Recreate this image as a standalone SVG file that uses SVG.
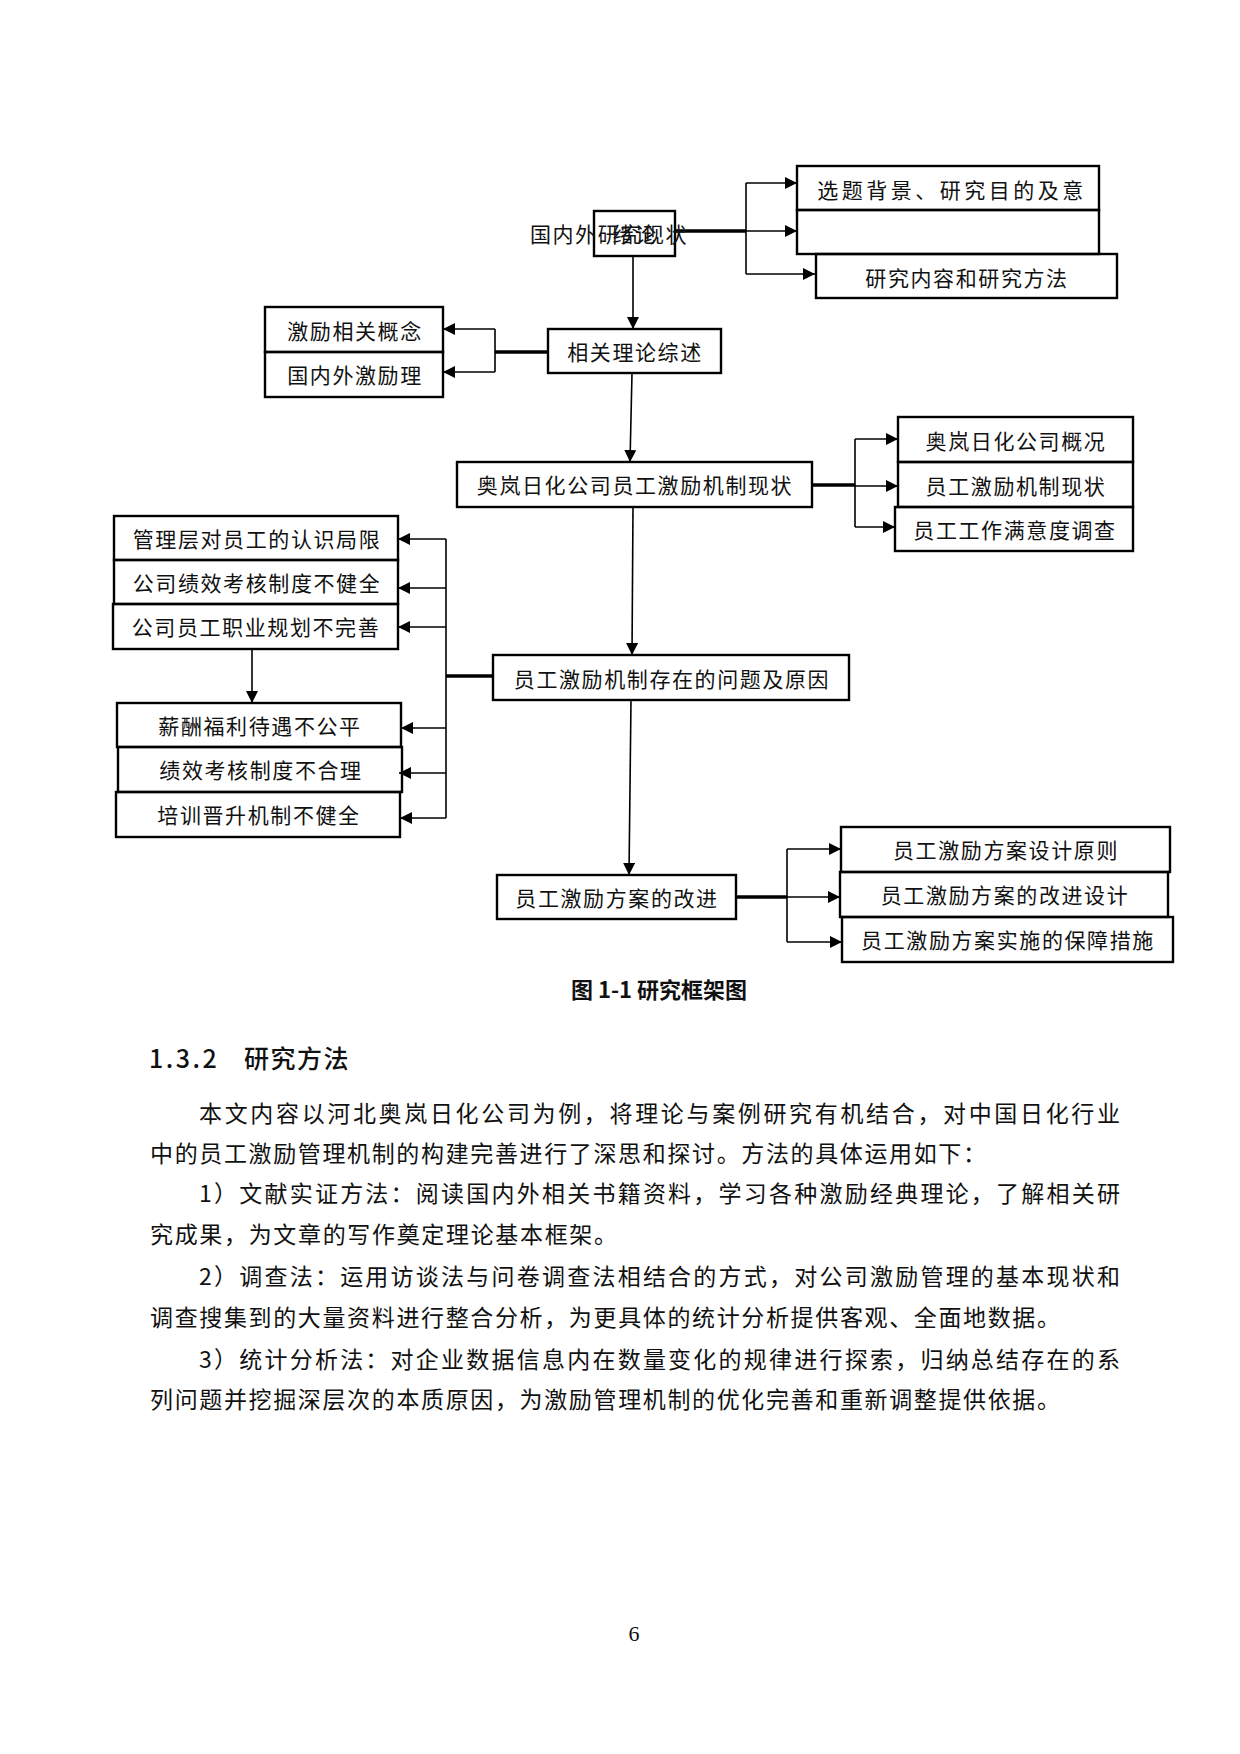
<svg xmlns="http://www.w3.org/2000/svg" width="1240" height="1754" viewBox="0 0 1240 1754">
<defs>
<marker id="ah" viewBox="0 0 10 10" refX="10" refY="5" markerWidth="12" markerHeight="12" markerUnits="userSpaceOnUse" orient="auto"><path d="M0,0 L10,5 L0,10 z" fill="#000"/></marker>
<style>
.box{fill:none;stroke:#000;stroke-width:2.4}
.lbl{font-family:"Noto Sans CJK SC","Liberation Sans",sans-serif;font-size:21px;letter-spacing:1.6px;fill:#111;text-anchor:middle;dominant-baseline:central}
.wide{letter-spacing:3.5px}
.ln{fill:none;stroke:#000;stroke-width:1.6}
.arr{fill:none;stroke:#000;stroke-width:1.6;marker-end:url(#ah)}
.thick{fill:none;stroke:#000;stroke-width:3.6}
.body{font-family:"Noto Sans CJK SC","Liberation Sans",sans-serif;font-size:23px;fill:#111;dominant-baseline:central}
.head{font-family:"Noto Sans CJK SC","Liberation Sans",sans-serif;font-size:25px;fill:#111;dominant-baseline:central;font-weight:500}
.cap{font-family:"Noto Sans CJK SC","Liberation Sans",sans-serif;font-size:22px;fill:#111;text-anchor:middle;dominant-baseline:central;font-weight:bold}
.pg{font-family:"Liberation Serif",serif;font-size:22px;fill:#111;text-anchor:middle;dominant-baseline:central}
</style>
</defs>
<rect x="0" y="0" width="1240" height="1754" fill="#fff"/>

<g id="connectors">
<path class="thick" d="M675,231 H746"/>
<path class="ln" d="M746,183 V274"/>
<path class="arr" d="M746,183 H797"/>
<path class="arr" d="M746,231 H797"/>
<path class="arr" d="M746,274 H815"/>
<path class="arr" d="M633,256 V329"/>
<path class="thick" d="M548,352 H495"/>
<path class="ln" d="M495,329 V372"/>
<path class="arr" d="M495,329 H443"/>
<path class="arr" d="M495,372 H443"/>
<path class="arr" d="M632,373 L630,462"/>
<path class="thick" d="M812,485 H855"/>
<path class="ln" d="M855,439 V527"/>
<path class="arr" d="M855,439 H898"/>
<path class="arr" d="M855,486 H898"/>
<path class="arr" d="M855,527 H895"/>
<path class="arr" d="M633,507 L632,655"/>
<path class="thick" d="M493,676 H446"/>
<path class="ln" d="M446,539 V818"/>
<path class="arr" d="M446,539 H398"/>
<path class="arr" d="M446,588 H398"/>
<path class="arr" d="M446,627 H398"/>
<path class="arr" d="M446,728 H401"/>
<path class="arr" d="M446,773 H399"/>
<path class="arr" d="M446,818 H400"/>
<path class="arr" d="M252,649 V703"/>
<path class="arr" d="M631,700 L629,875"/>
<path class="thick" d="M736,897 H787"/>
<path class="ln" d="M787,849 V942"/>
<path class="arr" d="M787,849 H841"/>
<path class="arr" d="M787,897 H840"/>
<path class="arr" d="M787,942 H842"/>
</g>

<g id="n-xulun"><rect class="box" x="594" y="211" width="81" height="45"/><text class="lbl" x="635" y="233">绪论</text></g>
<g id="n-guoneiwai"><text class="lbl" x="609" y="233">国内外研究现状</text></g>
<g id="n-bg"><rect class="box" x="797" y="166" width="302" height="44"/><text class="lbl wide" x="952" y="189">选题背景、研究目的及意</text></g>
<g id="n-empty"><rect class="box" x="797" y="210" width="302" height="44"/></g>
<g id="n-content"><rect class="box" x="816" y="254" width="301" height="44"/><text class="lbl" x="967" y="277">研究内容和研究方法</text></g>

<g id="n-theory"><rect class="box" x="548" y="329" width="173" height="44"/><text class="lbl" x="635" y="351">相关理论综述</text></g>
<g id="n-concept"><rect class="box" x="265" y="307" width="178" height="45"/><text class="lbl" x="355" y="330">激励相关概念</text></g>
<g id="n-theory2"><rect class="box" x="265" y="352" width="178" height="45"/><text class="lbl" x="355" y="374">国内外激励理</text></g>

<g id="n-status"><rect class="box" x="457" y="462" width="355" height="45"/><text class="lbl" x="635" y="484">奥岚日化公司员工激励机制现状</text></g>
<g id="n-s1"><rect class="box" x="898" y="417" width="235" height="45"/><text class="lbl" x="1016" y="440">奥岚日化公司概况</text></g>
<g id="n-s2"><rect class="box" x="898" y="462" width="235" height="45"/><text class="lbl" x="1016" y="485">员工激励机制现状</text></g>
<g id="n-s3"><rect class="box" x="895" y="507" width="238" height="44"/><text class="lbl" x="1015" y="529">员工工作满意度调查</text></g>

<g id="n-problem"><rect class="box" x="493" y="655" width="356" height="45"/><text class="lbl" x="672" y="678">员工激励机制存在的问题及原因</text></g>
<g id="n-pa"><rect class="box" x="114" y="516" width="284" height="44"/><text class="lbl" x="257" y="538">管理层对员工的认识局限</text></g>
<g id="n-pb"><rect class="box" x="114" y="560" width="284" height="44"/><text class="lbl" x="257" y="582">公司绩效考核制度不健全</text></g>
<g id="n-pc"><rect class="box" x="113" y="604" width="285" height="45"/><text class="lbl" x="256" y="626">公司员工职业规划不完善</text></g>
<g id="n-pd"><rect class="box" x="117" y="703" width="284" height="44"/><text class="lbl" x="260" y="725">薪酬福利待遇不公平</text></g>
<g id="n-pe"><rect class="box" x="118" y="747" width="284" height="45"/><text class="lbl" x="261" y="769">绩效考核制度不合理</text></g>
<g id="n-pf"><rect class="box" x="116" y="792" width="284" height="45"/><text class="lbl" x="259" y="814">培训晋升机制不健全</text></g>

<g id="n-improve"><rect class="box" x="497" y="875" width="239" height="44"/><text class="lbl" x="617" y="897">员工激励方案的改进</text></g>
<g id="n-r1"><rect class="box" x="841" y="827" width="329" height="45"/><text class="lbl" x="1006" y="849">员工激励方案设计原则</text></g>
<g id="n-r2"><rect class="box" x="840" y="872" width="328" height="45"/><text class="lbl" x="1005" y="894">员工激励方案的改进设计</text></g>
<g id="n-r3"><rect class="box" x="842" y="917" width="331" height="45"/><text class="lbl" x="1008" y="939">员工激励方案实施的保障措施</text></g>

<text class="cap" x="659" y="988">图 1-1 研究框架图</text>

<text class="head" y="1057"><tspan x="149" letter-spacing="2.5">1.3.2</tspan><tspan x="244" letter-spacing="1.5">研究方法</tspan></text>

<text class="body" x="199" y="1112" textLength="921" lengthAdjust="spacing">本文内容以河北奥岚日化公司为例，将理论与案例研究有机结合，对中国日化行业</text>
<text class="body" x="150" y="1152" textLength="836" lengthAdjust="spacing">中的员工激励管理机制的构建完善进行了深思和探讨。方法的具体运用如下：</text>
<text class="body" x="199" y="1192" textLength="921" lengthAdjust="spacing">1）文献实证方法：阅读国内外相关书籍资料，学习各种激励经典理论，了解相关研</text>
<text class="body" x="150" y="1233" textLength="467" lengthAdjust="spacing">究成果，为文章的写作奠定理论基本框架。</text>
<text class="body" x="199" y="1275" textLength="921" lengthAdjust="spacing">2）调查法：运用访谈法与问卷调查法相结合的方式，对公司激励管理的基本现状和</text>
<text class="body" x="150" y="1316" textLength="910" lengthAdjust="spacing">调查搜集到的大量资料进行整合分析，为更具体的统计分析提供客观、全面地数据。</text>
<text class="body" x="199" y="1358" textLength="921" lengthAdjust="spacing">3）统计分析法：对企业数据信息内在数量变化的规律进行探索，归纳总结存在的系</text>
<text class="body" x="150" y="1398" textLength="910" lengthAdjust="spacing">列问题并挖掘深层次的本质原因，为激励管理机制的优化完善和重新调整提供依据。</text>

<text class="pg" x="634" y="1633">6</text>
</svg>
